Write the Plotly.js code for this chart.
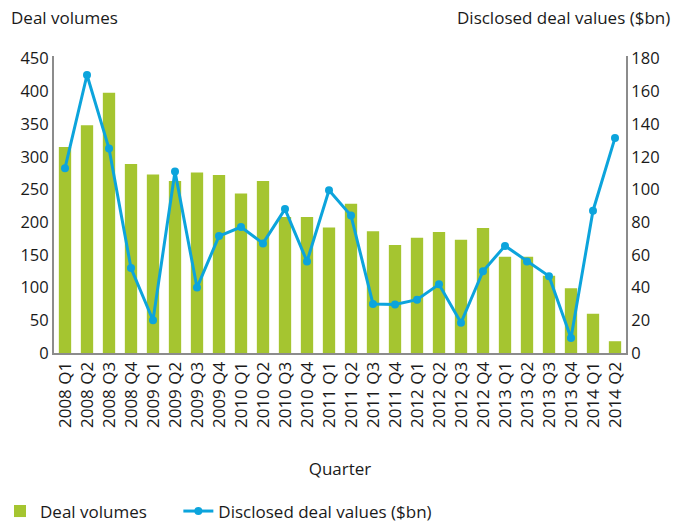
<!DOCTYPE html>
<html>
<head>
<meta charset="utf-8">
<script src="https://cdn.plot.ly/plotly-3.0.1.min.js"></script>
<style>html,body{margin:0;padding:0;background:#fff}#chart{width:685px;height:523px}</style>
</head>
<body>
<div id="chart"></div>
<script>
var quarters = ["2008 Q1","2008 Q2","2008 Q3","2008 Q4","2009 Q1","2009 Q2","2009 Q3","2009 Q4","2010 Q1","2010 Q2","2010 Q3","2010 Q4","2011 Q1","2011 Q2","2011 Q3","2011 Q4","2012 Q1","2012 Q2","2012 Q3","2012 Q4","2013 Q1","2013 Q2","2013 Q3","2013 Q4","2014 Q1","2014 Q2"];
var dealVolumes = [315,348,398,289,273,263,276,272,244,263,208,208,192,228,186,165,176,185,173,191,147,147,118,99,60,18];
var dealValues = [113,170,125,52,20,111,40,71.5,77,67,88,56,99.5,84,30,29.7,32.6,42,18.5,50,65.5,56,47,9.2,87,131.5];
var seriesNames = ["Deal volumes", "Disclosed deal values ($bn)"];

var font = "Open Sans, Noto Sans, sans-serif";
var pad = "\u00a0\u00a0\u00a0\u00a0\u00a0\u00a0";
var traces = [
  {type:"bar", name:seriesNames[0] + pad, x:quarters, y:dealVolumes, marker:{color:"#a5c530"}, yaxis:"y"},
  {type:"scatter", mode:"lines+markers", name:seriesNames[1], x:quarters, y:dealValues, yaxis:"y2",
   line:{color:"#0ca4dc", width:3}, marker:{color:"#0ca4dc", size:8, symbol:"circle"}}
];
var layout = {
  width:685, height:523,
  margin:{l:53.5, r:58.5, t:55.7, b:169.7, pad:0},
  paper_bgcolor:"#fff", plot_bgcolor:"#fff",
  font:{family:font, color:"#1a1a1a", size:16},
  bargap:0.44,
  showlegend:true,
  xaxis:{type:"category", range:[-0.5, 25.5], showline:true, linecolor:"#8c8c8c", linewidth:2, showgrid:false, ticks:"", tickangle:-90,
         tickfont:{size:17}, title:{text:"Quarter", font:{size:17}, standoff:36}, automargin:false},
  yaxis:{range:[0,454], tickvals:[0,50,100,150,200,250,300,350,400,450], showline:true, linecolor:"#8c8c8c", linewidth:2,
         showgrid:false, zeroline:false, ticks:"", tickfont:{size:16.5}, automargin:false},
  yaxis2:{range:[0,181.6], tickvals:[0,20,40,60,80,100,120,140,160,180], overlaying:"y", side:"right", showline:true,
          linecolor:"#8c8c8c", linewidth:2, showgrid:false, zeroline:false, ticks:"", tickfont:{size:16.5}, automargin:false},
  legend:{orientation:"h", xref:"container", yref:"container", x:0, y:0.022, xanchor:"left", yanchor:"middle",
          font:{size:17}, traceorder:"normal"},
  annotations:[
    {xref:"paper", yref:"paper", x:0, y:1, xshift:-45, yshift:38.7, xanchor:"left", yanchor:"middle", showarrow:false,
     text:seriesNames[0], font:{size:17}},
    {xref:"paper", yref:"paper", x:1, y:1, xshift:46, yshift:38.7, xanchor:"right", yanchor:"middle", showarrow:false,
     text:seriesNames[1], font:{size:17}}
  ]
};
Plotly.newPlot("chart", traces, layout, {displayModeBar:false, staticPlot:true});
</script>
</body>
</html>
